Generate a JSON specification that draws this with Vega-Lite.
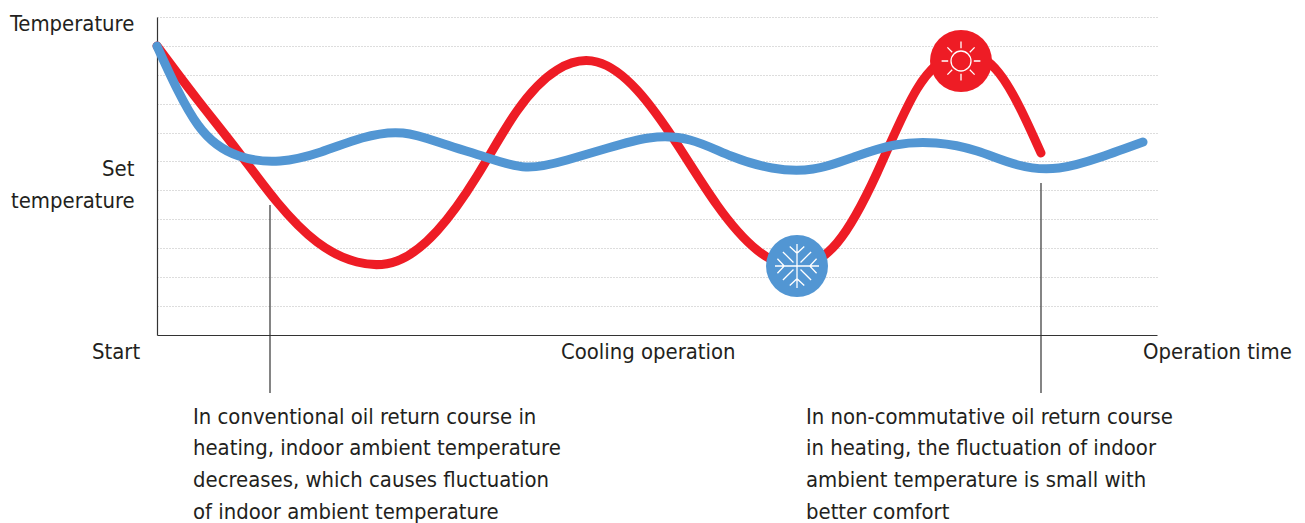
{
"$schema":"https://vega.github.io/schema/vega-lite/v6.json",
"width":1000,"height":318,
"autosize":{"type":"none"},
"padding":{"left":157,"top":17,"right":148,"bottom":188},
"background":"white",
"config":{"view":{"stroke":null}},
"datasets":{
"red":[{"t":0,"temp":289},{"t":40,"temp":236},{"t":80,"temp":185},{"t":120,"temp":133},{"t":160,"temp":93},{"t":200,"temp":73},{"t":240,"temp":74},{"t":280,"temp":104},{"t":320,"temp":159},{"t":360,"temp":224},{"t":400,"temp":265},{"t":440,"temp":273},{"t":480,"temp":245},{"t":520,"temp":191},{"t":560,"temp":130},{"t":600,"temp":85},{"t":640,"temp":69},{"t":680,"temp":92},{"t":720,"temp":162},{"t":760,"temp":246},{"t":800,"temp":281},{"t":842,"temp":262},{"t":884,"temp":182}],
"blue":[{"t":0,"temp":289},{"t":41,"temp":210},{"t":82,"temp":179},{"t":123,"temp":174},{"t":164,"temp":183},{"t":205,"temp":197},{"t":246,"temp":202},{"t":287,"temp":191},{"t":328,"temp":178},{"t":369,"temp":168},{"t":410,"temp":175},{"t":451,"temp":187},{"t":492,"temp":197},{"t":533,"temp":195},{"t":574,"temp":179},{"t":615,"temp":167},{"t":656,"temp":166},{"t":697,"temp":178},{"t":738,"temp":190},{"t":779,"temp":192},{"t":820,"temp":184},{"t":861,"temp":170},{"t":902,"temp":167},{"t":944,"temp":178},{"t":986,"temp":193}],
"notes":[{"t":113,"from":130,"to":-58},{"t":884,"from":152,"to":-58}],
"labels":[
{"t":-147,"temp":311.5,"label":"Temperature"},
{"t":-55,"temp":166.5,"label":"Set"},
{"t":-146,"temp":134.5,"label":"temperature"},
{"t":-65,"temp":-16.5,"label":"Start"},
{"t":404,"temp":-16.5,"label":"Cooling operation"},
{"t":986,"temp":-16.5,"label":"Operation time"},
{"t":36,"temp":-81.5,"label":"In conventional oil return course in"},
{"t":36,"temp":-112.5,"label":"heating, indoor ambient temperature"},
{"t":36,"temp":-144.5,"label":"decreases, which causes fluctuation"},
{"t":36,"temp":-176.5,"label":"of indoor ambient temperature"},
{"t":649,"temp":-81.5,"label":"In non-commutative oil return course"},
{"t":649,"temp":-112.5,"label":"in heating, the fluctuation of indoor"},
{"t":649,"temp":-144.5,"label":"ambient temperature is small with"},
{"t":649,"temp":-176.5,"label":"better comfort"}],
"sun":[{"t":804,"temp":274}],
"snow":[{"t":640,"temp":69}]
},
"encoding":{
"x":{"field":"t","type":"quantitative","scale":{"domain":[0,1000],"nice":false,"zero":false},"axis":{"title":null,"labels":false,"ticks":false,"grid":false,"domainColor":"#333333","domainWidth":1.2}},
"y":{"field":"temp","type":"quantitative","scale":{"domain":[0,318],"nice":false,"zero":false},"axis":{"title":null,"labels":false,"ticks":false,"grid":true,"values":[28.9,57.8,86.7,115.6,144.5,173.5,202.4,231.3,260.2,289.1,318],"gridColor":"#bbbbbb","gridDash":[1,2],"gridWidth":1,"domainColor":"#333333","domainWidth":1.2}}
},
"layer":[
{"data":{"name":"notes"},"mark":{"type":"rule","color":"#333333","strokeWidth":1.2},"encoding":{"y":{"field":"from","type":"quantitative"},"y2":{"field":"to"}}},
{"data":{"name":"red"},"mark":{"type":"line","color":"#ee1c25","strokeWidth":9,"interpolate":"natural","strokeCap":"round","strokeJoin":"round"}},
{"data":{"name":"blue"},"mark":{"type":"line","color":"#5296d3","strokeWidth":9,"interpolate":"natural","strokeCap":"round","strokeJoin":"round"}},
{"data":{"name":"sun"},"mark":{"type":"point","shape":"circle","filled":true,"opacity":1,"color":"#ee1c25","size":3844}},
{"data":{"name":"sun"},"mark":{"type":"point","filled":false,"opacity":1,"stroke":"white","strokeWidth":1.3,"size":1600,"shape":"M0.5,0A0.5,0.5,0,1,1,-0.5,0A0.5,0.5,0,1,1,0.5,0ZM0,-0.97L0,-0.64M0,0.97L0,0.64M-0.97,0L-0.64,0M0.97,0L0.64,0M-0.68,-0.68L-0.44,-0.44M0.68,-0.68L0.44,-0.44M-0.68,0.68L-0.44,0.44M0.68,0.68L0.44,0.44"}},
{"data":{"name":"snow"},"mark":{"type":"point","shape":"circle","filled":true,"opacity":1,"color":"#5296d3","size":3844}},
{"data":{"name":"snow"},"mark":{"type":"point","filled":false,"opacity":1,"stroke":"white","strokeWidth":1.3,"size":1936,"shape":"M0,-1L0,1M-1,0L1,0M-0.33,-0.89L0,-0.58L0.33,-0.89M-0.33,0.89L0,0.58L0.33,0.89M-0.89,-0.33L-0.58,0L-0.89,0.33M0.89,-0.33L0.58,0L0.89,0.33M-0.64,-0.64L-0.16,-0.16M0.64,-0.64L0.16,-0.16M-0.64,0.64L-0.16,0.16M0.64,0.64L0.16,0.16"}},
{"data":{"name":"labels"},"mark":{"type":"text","align":"left","baseline":"middle","font":"DejaVu Sans Condensed","fontSize":21.9,"color":"#231f20"},"encoding":{"text":{"field":"label","type":"nominal"}}}
]
}
